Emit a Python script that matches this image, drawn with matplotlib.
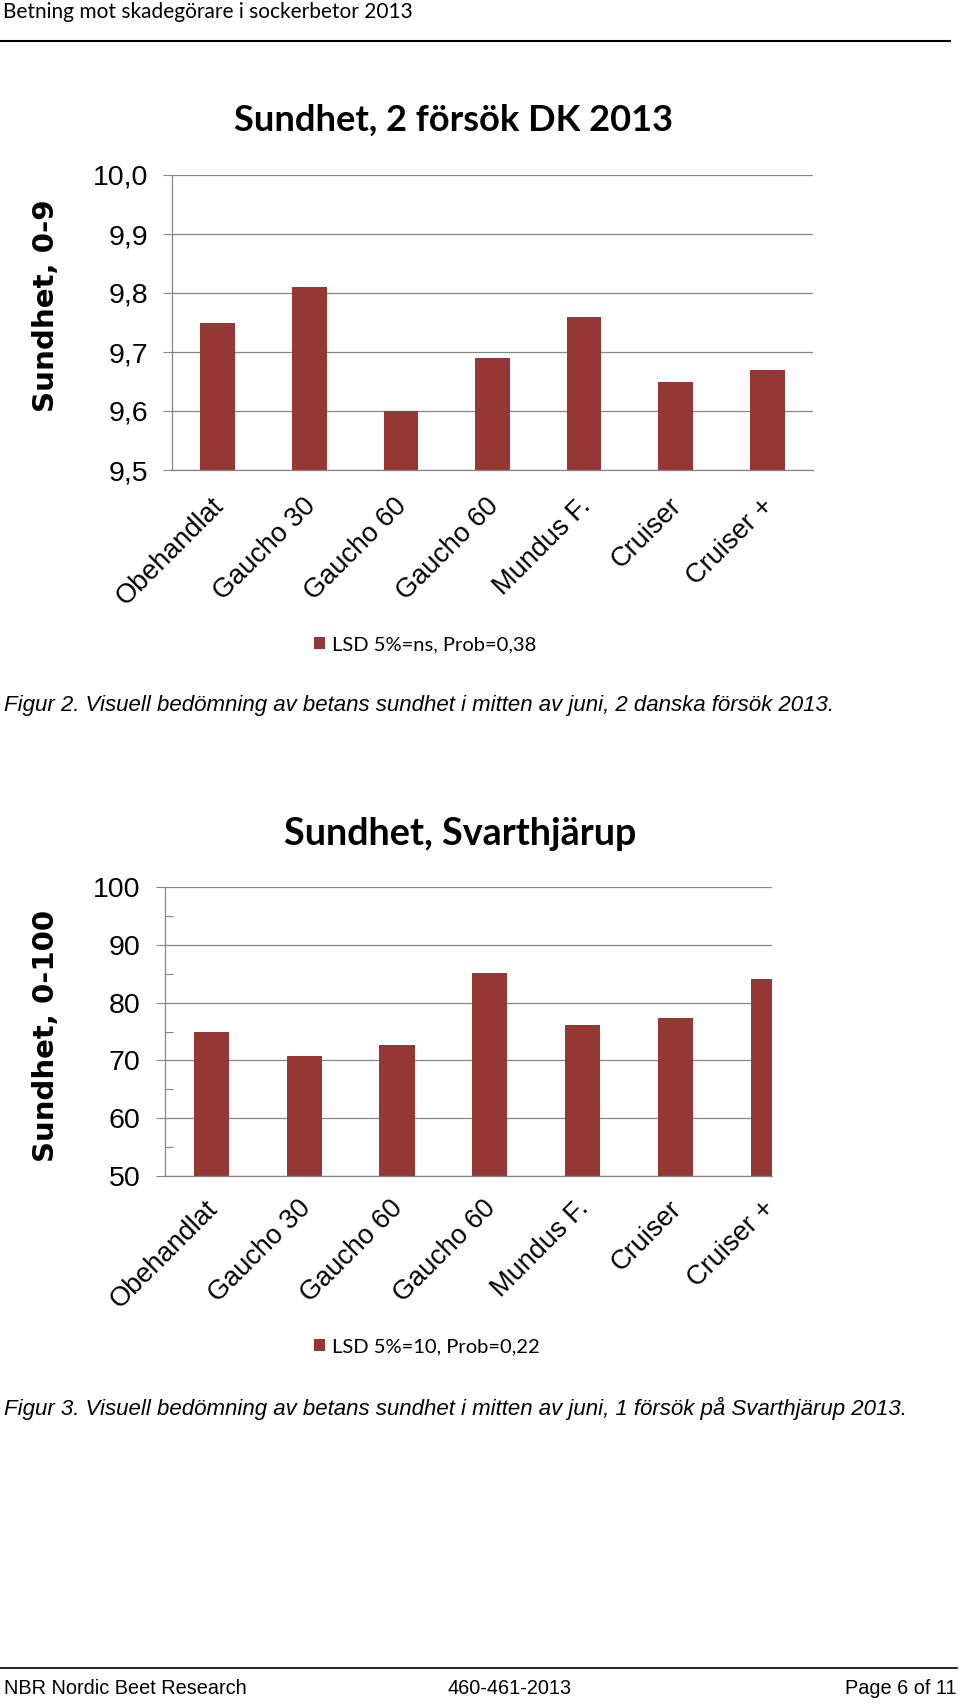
import matplotlib
matplotlib.use("Agg")
import matplotlib.pyplot as plt
from matplotlib.lines import Line2D
from matplotlib.transforms import ScaledTranslation
from matplotlib.ticker import FixedLocator

# ---------------- data ----------------
categories = ["Obehandlat", "Gaucho 30", "Gaucho 60", "Gaucho 60", "Mundus F.", "Cruiser", "Cruiser +"]
dk_values = [9.75, 9.81, 9.60, 9.69, 9.76, 9.65, 9.67]
sv_values = [74.9, 70.7, 72.7, 85.1, 76.2, 77.4, 84.0]
dk_ticks = [9.5, 9.6, 9.7, 9.8, 9.9, 10.0]
dk_ticklabels = ["9,5", "9,6", "9,7", "9,8", "9,9", "10,0"]
sv_ticks = [50, 60, 70, 80, 90, 100]
sv_ticklabels = ["50", "60", "70", "80", "90", "100"]
sv_minor = [55, 65, 75, 85, 95]
dk_title = "Sundhet, 2 försök DK 2013"
sv_title = "Sundhet, Svarthjärup"
dk_ylabel = "Sundhet, 0-9"
sv_ylabel = "Sundhet, 0-100"
dk_legend = "LSD 5%=ns, Prob=0,38"
sv_legend = "LSD 5%=10, Prob=0,22"
header = "Betning mot skadegörare i sockerbetor 2013"
caption2 = "Figur 2. Visuell bedömning av betans sundhet i mitten av juni, 2 danska försök 2013."
caption3 = "Figur 3. Visuell bedömning av betans sundhet i mitten av juni, 1 försök på Svarthjärup 2013."
footer_left = "NBR Nordic Beet Research"
footer_mid = "460-461-2013"
footer_right = "Page 6 of 11"

W, H = 960, 1705
BAR = "#953735"
GRID = "#868686"
CAL = ["Lato", "DejaVu Sans"]
ARIAL = ["Liberation Sans", "DejaVu Sans"]

fig = plt.figure(figsize=(W / 100, H / 100), dpi=100)
fig.patch.set_facecolor("white")


def fx(px):
    return px / W


def fy(py):
    return 1 - py / H


def fit(t, target, dim="w"):
    r = fig.canvas.get_renderer()
    bb = t.get_window_extent(r)
    cur = bb.width if dim == "w" else bb.height
    t.set_fontsize(t.get_fontsize() * target / cur)


def make_chart(box, xlim, values, ticks, ticklabels, minor, title, tpos, twidth,
               ylabel, ypos, yheight, legend_text, legend_y, xpad, ypad):
    left, top, right, bottom = box
    ax = fig.add_axes([fx(left), fy(bottom), fx(right) - fx(left), (bottom - top) / H])
    x = list(range(len(categories)))
    bars = ax.bar(x, values, width=0.38, color=BAR, zorder=2)
    ax.set_xlim(*xlim)
    ax.set_ylim(ticks[0], ticks[-1])
    ax.set_yticks(ticks)
    ax.set_yticklabels(ticklabels, fontfamily=ARIAL, fontsize=20.5)
    if minor:
        ax.yaxis.set_minor_locator(FixedLocator(minor))
        ax.tick_params(axis="y", which="minor", direction="in", length=6, width=0.8, color=GRID)
    ax.tick_params(axis="y", which="major", direction="out", length=6.5, width=0.8,
                   color=GRID, pad=ypad)
    ax.yaxis.grid(True, color=GRID, lw=0.9)
    ax.set_axisbelow(True)
    for s in ("top", "right"):
        ax.spines[s].set_visible(False)
    for s in ("left", "bottom"):
        ax.spines[s].set_color(GRID)
        ax.spines[s].set_linewidth(0.9)
    ax.set_xticks(x)
    ax.set_xticklabels(categories, rotation=45, ha="right", va="top",
                       rotation_mode="anchor", fontfamily=ARIAL, fontsize=19.5)
    ax.tick_params(axis="x", length=0, pad=xpad)
    off = ScaledTranslation(-7 / 100, 0, fig.dpi_scale_trans)
    for lab in ax.get_xticklabels():
        lab.set_transform(lab.get_transform() + off)

    t = fig.text(fx(tpos[0]), fy(tpos[1]), title, ha="center", va="center",
                 fontfamily=CAL, fontweight="bold", fontsize=25)
    fit(t, twidth)
    yl = fig.text(fx(ypos[0]), fy(ypos[1]), ylabel, ha="center", va="center", rotation=90,
                  fontfamily=["DejaVu Sans"], fontweight="bold", fontsize=20)
    fit(yl, yheight, "h")

    ax.legend([bars], [legend_text], loc="center left",
              bbox_to_anchor=(fx(314), fy(legend_y)), bbox_transform=fig.transFigure,
              frameon=False, borderpad=0, borderaxespad=0, handlelength=0.55,
              handleheight=0.55, handletextpad=0.35,
              prop={"family": CAL, "size": 14.5})
    return ax


make_chart((172, 175, 813, 470), (-0.5, 6.5), dk_values, dk_ticks, dk_ticklabels, None,
           dk_title, (454, 120), 440, dk_ylabel, (46, 306), 212, dk_legend, 645, 16.5, 10.5)
make_chart((165, 887, 772, 1176), (-0.5, 6.04), sv_values, sv_ticks, sv_ticklabels, sv_minor,
           sv_title, (460, 834), 354, sv_ylabel, (46, 1036), 252, sv_legend, 1347, 14, 11)

# page header
h = fig.text(fx(3), fy(12), header, ha="left", va="center", fontfamily=CAL, fontsize=14)
fit(h, 410)
fig.add_artist(Line2D([0, fx(950)], [fy(41), fy(41)], transform=fig.transFigure,
                      color="black", lw=1.5))

# captions
c2 = fig.text(fx(4), fy(705), caption2, ha="left", va="center", fontfamily=ARIAL,
              fontstyle="italic", fontsize=14)
fit(c2, 835)
c3 = fig.text(fx(4), fy(1408), caption3, ha="left", va="center", fontfamily=ARIAL,
              fontstyle="italic", fontsize=14)
fit(c3, 907)

# footer
fig.add_artist(Line2D([0, fx(957)], [fy(1668), fy(1668)], transform=fig.transFigure,
                      color="black", lw=1.2))
f1 = fig.text(fx(4), fy(1688), footer_left, ha="left", va="center", fontfamily=ARIAL, fontsize=12.5)
fit(f1, 242)
fs = f1.get_fontsize()
fig.text(fx(448), fy(1688), footer_mid, ha="left", va="center", fontfamily=ARIAL, fontsize=fs)
fig.text(fx(957), fy(1688), footer_right, ha="right", va="center", fontfamily=ARIAL, fontsize=fs)

fig.savefig("out.png", dpi=100, facecolor="white")
